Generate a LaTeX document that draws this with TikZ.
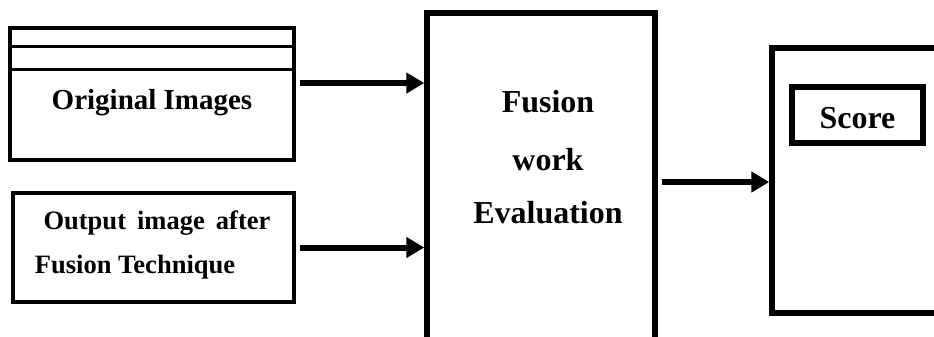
\documentclass[tikz,border=0pt]{standalone}
\usepackage{fontspec}
\setmainfont{Liberation Serif}
\usetikzlibrary{arrows.meta}

\tikzset{
    thinbox/.style = {draw, line width = 0.07cm, inner sep = 0pt},
    thickbox/.style = {draw, line width = 0.11cm, inner sep = 0pt},
    caption/.style = {font = \bfseries\fontsize{#1}{#1}\selectfont, inner sep = 0pt},
    flow/.style = {line width = 0.12cm, -{Triangle[length = 0.36cm, width = 0.4cm]}}
}

\begin{document}
\begin{tikzpicture}[x = 0.02cm, y = -0.02cm]
    \useasboundingbox (0,0) rectangle (934,336);
    \clip (0,0) rectangle (934,336);
    \node (orig) [thinbox, minimum width = 5.68cm, minimum height = 2.64cm] at (152,94) {};
    \draw [line width = 0.07cm] (orig.north west) ++(0,20) -- ++(284,0);
    \draw [line width = 0.07cm] (orig.north west) ++(0,43) -- ++(284,0);
    \node (origtext) [caption = 16.5] at (152,103) {Original Images};
    \node (output) [thinbox, minimum width = 5.62cm, minimum height = 2.18cm] at (153.5,247.5) {};
    \node (outtext1) [caption = 15.1, text width = 4.54cm, align = justify] at (157,223) {Output\hfill image\hfill after};
    \node (outtext2) [caption = 15.1] at (135,267) {Fusion Technique};
    \node (fusion) [thickbox, minimum width = 4.56cm, minimum height = 6.76cm] at (541,182) {};
    \node (fusiontext1) [caption = 18.2] at (548,102) {Fusion};
    \node (fusiontext2) [caption = 18.2] at (548,160) {work};
    \node (fusiontext3) [caption = 18.2] at (548,213) {Evaluation};
    \node (result) [thickbox, minimum width = 3.6cm, minimum height = 5.3cm] at (862,180.5) {};
    \node (score) [thickbox, minimum width = 2.62cm, minimum height = 1.12cm] at (857.5,115) {};
    \node (scoretext) [caption = 18.2] at (857.5,118) {Score};
    \draw [flow] ([xshift = 0.08cm, yshift = 0.22cm]orig.east) -- ([yshift = 0.22cm]orig.east -| fusion.west);
    \draw [flow] ([xshift = 0.08cm]output.east) -- (output.east -| fusion.west);
    \draw [flow] ([xshift = 0.08cm]fusion.east) -- (fusion.east -| result.west);
\end{tikzpicture}
\end{document}
